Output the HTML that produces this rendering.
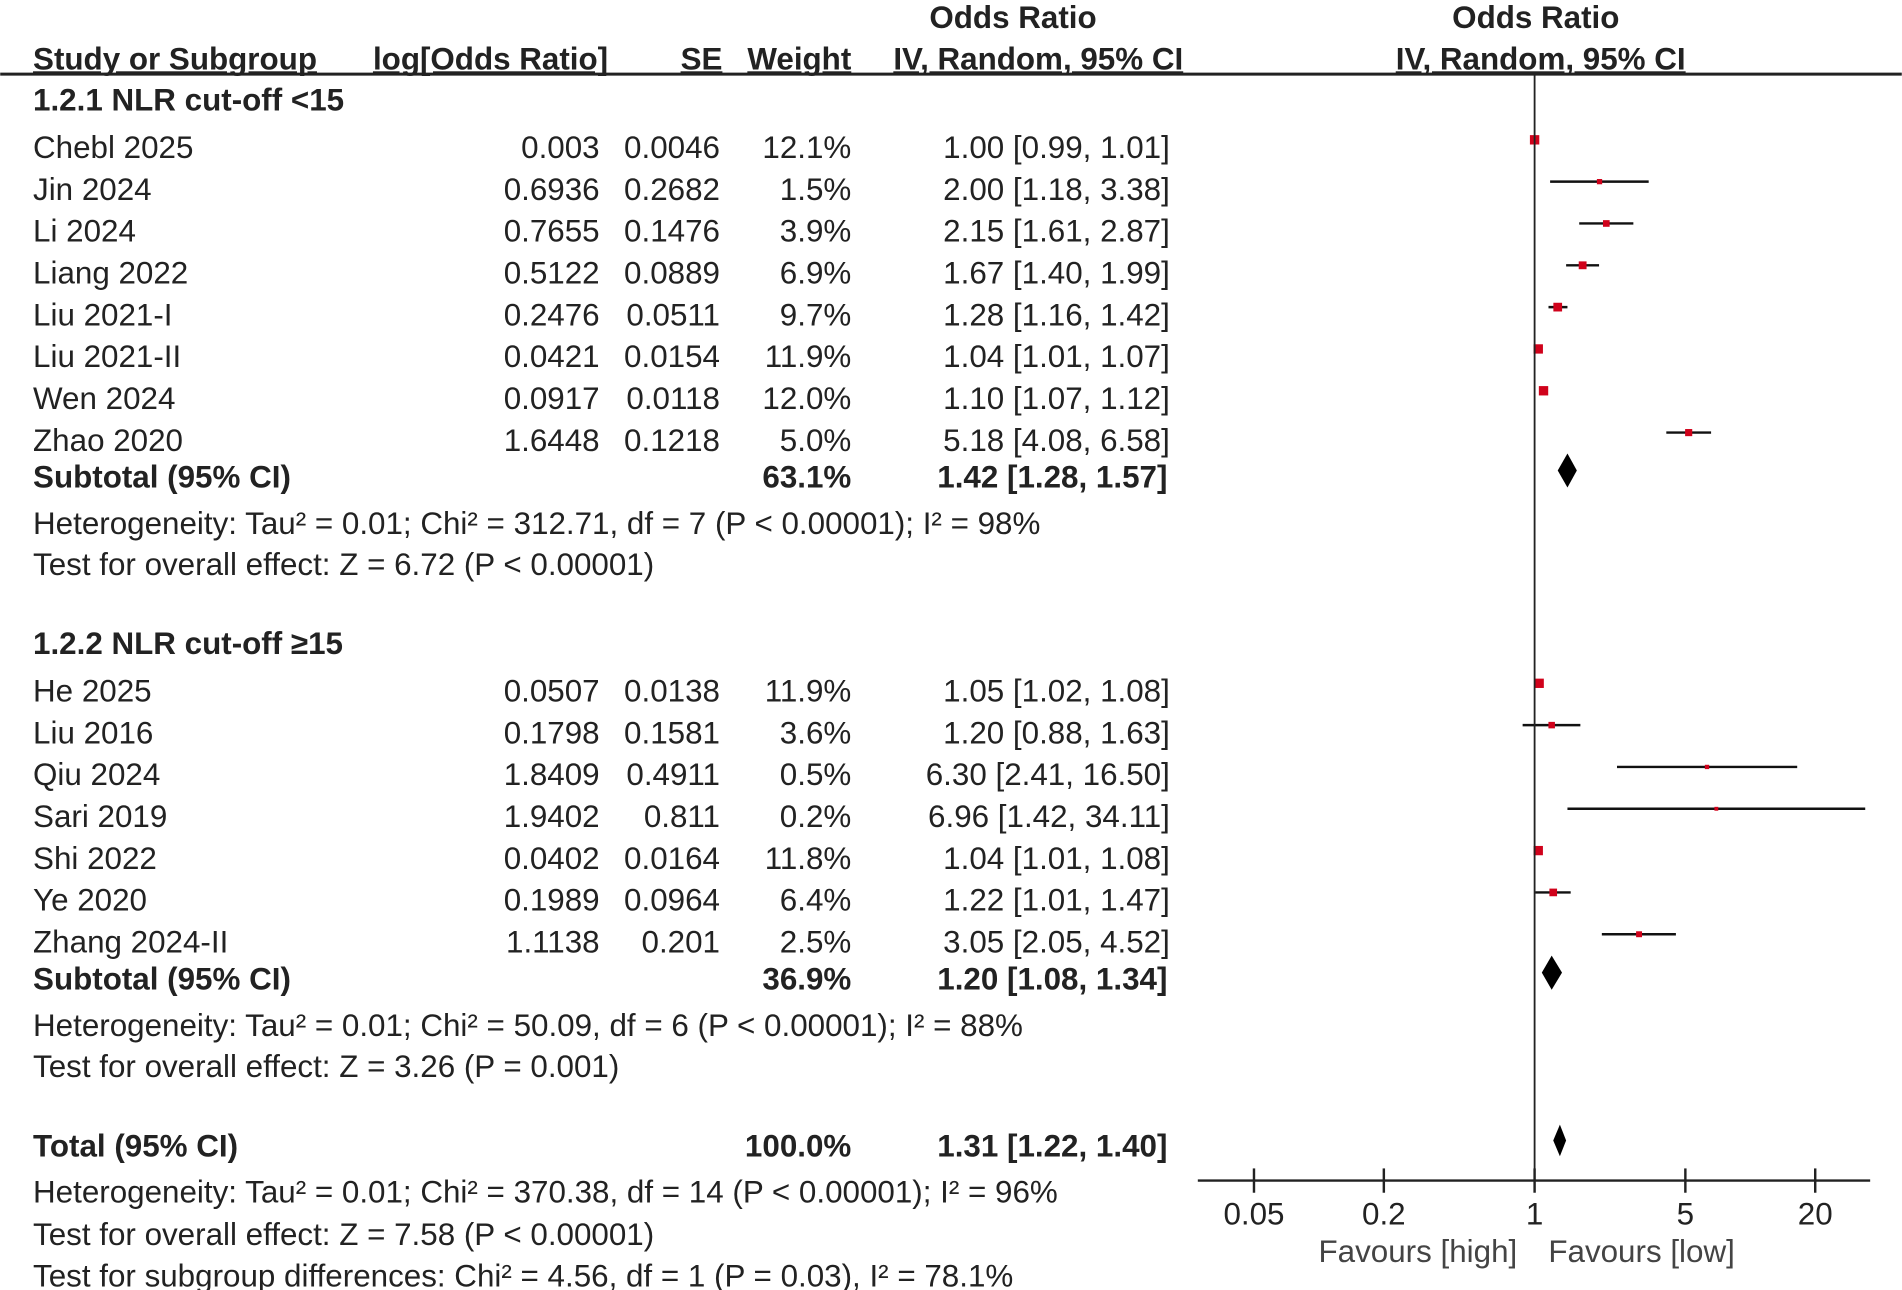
<!DOCTYPE html>
<html><head><meta charset="utf-8"><style>
html,body{margin:0;padding:0;background:#fff;}
svg{display:block;font-family:"Liberation Sans",Arial,sans-serif;}
text{fill:#222;font-size:25.8px;}
.b{font-weight:bold;}
</style></head><body>
<svg id="chart" width="1902" height="1290" viewBox="0 0 1564 1061" xmlns="http://www.w3.org/2000/svg">
<g id="hdr">
<text class="b" x="833" y="23" text-anchor="middle">Odds Ratio</text>
<text class="b" x="1263" y="23" text-anchor="middle">Odds Ratio</text>
<text class="b" x="27" y="57" text-decoration="underline">Study or Subgroup</text>
<text class="b" x="500" y="57" text-anchor="end" text-decoration="underline">log[Odds Ratio]</text>
<text class="b" x="594" y="57" text-anchor="end" text-decoration="underline">SE</text>
<text class="b" x="700" y="57" text-anchor="end" text-decoration="underline">Weight</text>
<text class="b" x="973" y="57" text-anchor="end" text-decoration="underline">IV, Random, 95% CI</text>
<text class="b" x="1267" y="57" text-anchor="middle" text-decoration="underline">IV, Random, 95% CI</text>
<line x1="0" y1="61" x2="1564" y2="61" stroke="#222" stroke-width="2.5"/>
</g>
<g id="rows"></g>
<g id="marks"></g>
<g id="axis"></g>
</svg>
<script>
const studies1 = ["Chebl 2025","Jin 2024","Li 2024","Liang 2022","Liu 2021-I","Liu 2021-II","Wen 2024","Zhao 2020"];
const logOR1 = ["0.003","0.6936","0.7655","0.5122","0.2476","0.0421","0.0917","1.6448"];
const se1 = ["0.0046","0.2682","0.1476","0.0889","0.0511","0.0154","0.0118","0.1218"];
const weight1 = [12.1,1.5,3.9,6.9,9.7,11.9,12.0,5.0];
const or1 = [1.00,2.00,2.15,1.67,1.28,1.04,1.10,5.18];
const lo1 = [0.99,1.18,1.61,1.40,1.16,1.01,1.07,4.08];
const hi1 = [1.01,3.38,2.87,1.99,1.42,1.07,1.12,6.58];
const studies2 = ["He 2025","Liu 2016","Qiu 2024","Sari 2019","Shi 2022","Ye 2020","Zhang 2024-II"];
const logOR2 = ["0.0507","0.1798","1.8409","1.9402","0.0402","0.1989","1.1138"];
const se2 = ["0.0138","0.1581","0.4911","0.811","0.0164","0.0964","0.201"];
const weight2 = [11.9,3.6,0.5,0.2,11.8,6.4,2.5];
const or2 = [1.05,1.20,6.30,6.96,1.04,1.22,3.05];
const lo2 = [1.02,0.88,2.41,1.42,1.01,1.01,2.05];
const hi2 = [1.08,1.63,16.50,34.11,1.08,1.47,4.52];
const subOR = [1.42,1.20];
const subLo = [1.28,1.08];
const subHi = [1.57,1.34];
const subW = ["63.1%","36.9%"];
const totOR = 1.31, totLo = 1.22, totHi = 1.40;
const ticks = [0.05,0.2,1,5,20];
const tickLabels = ["0.05","0.2","1","5","20"];

const NS="http://www.w3.org/2000/svg";
const rows=document.getElementById('rows'), marks=document.getElementById('marks'), axis=document.getElementById('axis');
const X0=1262, PPD=177.4;
function xs(v){return X0+Math.log10(v)*PPD;}
function fmt(v){return v.toFixed(2);}
function el(tag,attrs,parent){const e=document.createElementNS(NS,tag);for(const k in attrs)e.setAttribute(k,attrs[k]);parent.appendChild(e);return e;}
function txt(parent,x,y,s,anchor,bold){const t=el('text',{x:x,y:y,'text-anchor':anchor||'start'},parent);if(bold)t.setAttribute('class','b');t.textContent=s;return t;}
function ciText(o,l,h){return fmt(o)+" ["+fmt(l)+", "+fmt(h)+"]";}

function drawStudies(names,lor,se,w,o,l,h,y0){
  names.forEach((n,i)=>{
    const y=y0+i*34.4;
    const g=el('g',{},rows);
    
    
    txt(g,27,y+9,n);
    txt(g,493,y+9,lor[i],'end');
    txt(g,592,y+9,se[i],'end');
    txt(g,700,y+9,w[i].toFixed(1)+"%",'end');
    txt(g,962,y+9,ciText(o[i],l[i],h[i]),'end');
    const ln=el('line',{x1:xs(l[i]),x2:xs(h[i]),y1:y-6,y2:y-6,stroke:'#111','stroke-width':2},marks);
    
    
    const s=2.5+Math.sqrt(w[i])*1.5;
    const r=el('rect',{x:xs(o[i])-s/2,y:y-6-s/2,width:s,height:s,fill:'#d0021b'},marks);
    
    
  });
}
function diamond(o,l,h,y,hh,name){
  const p=el('polygon',{points:`${xs(l)},${y} ${xs(o)},${y-hh/2} ${xs(h)},${y} ${xs(o)},${y+hh/2}`,fill:'#000'},marks);
  
  
}
function subtotal(i,y){
  const g=el('g',{},rows);
  
  
  txt(g,27,y+8,"Subtotal (95% CI)",'start',true);
  txt(g,700,y+8,subW[i],'end',true);
  txt(g,960,y+8,ciText(subOR[i],subLo[i],subHi[i]),'end',true);
  diamond(subOR[i],subLo[i],subHi[i],y-6,28,'subtotal-diamond');
}
function note(y,s){const t=txt(rows,27,y+8,s);}

let g1=txt(rows,27,91,"1.2.1 NLR cut-off <15",'start',true);


drawStudies(studies1,logOR1,se1,weight1,or1,lo1,hi1,121);
subtotal(0,393);
note(431,"Heterogeneity: Tau² = 0.01; Chi² = 312.71, df = 7 (P < 0.00001); I² = 98%");
note(465,"Test for overall effect: Z = 6.72 (P < 0.00001)");
let g2=txt(rows,27,538,"1.2.2 NLR cut-off ≥15",'start',true);


drawStudies(studies2,logOR2,se2,weight2,or2,lo2,hi2,568);
subtotal(1,806);
note(844,"Heterogeneity: Tau² = 0.01; Chi² = 50.09, df = 6 (P < 0.00001); I² = 88%");
note(878,"Test for overall effect: Z = 3.26 (P = 0.001)");
const tg=el('g',{},rows);


txt(tg,27,951,"Total (95% CI)",'start',true);
txt(tg,700,951,"100.0%",'end',true);
txt(tg,960,951,ciText(totOR,totLo,totHi),'end',true);
diamond(totOR,totLo,totHi,938,26,'total-diamond');
note(981,"Heterogeneity: Tau² = 0.01; Chi² = 370.38, df = 14 (P < 0.00001); I² = 96%");
note(1016,"Test for overall effect: Z = 7.58 (P < 0.00001)");
note(1050,"Test for subgroup differences: Chi² = 4.56, df = 1 (P = 0.03), I² = 78.1%");

const vl=el('line',{x1:X0,x2:X0,y1:61,y2:971,stroke:'#222','stroke-width':1.5},axis);


const al=el('line',{x1:985,x2:1538,y1:971,y2:971,stroke:'#222','stroke-width':2},axis);


ticks.forEach((t,i)=>{
  const tk=el('line',{x1:xs(t),x2:xs(t),y1:961,y2:981,stroke:'#222','stroke-width':2},axis);
  
  
  const lb=txt(axis,xs(t),1007,tickLabels[i],'middle');
  
  
});
const fh=txt(axis,1166,1038,"Favours [high]",'middle');


fh.setAttribute('style','fill:#444');
const fl=txt(axis,1350,1038,"Favours [low]",'middle');


fl.setAttribute('style','fill:#444');
</script>
</body></html>
